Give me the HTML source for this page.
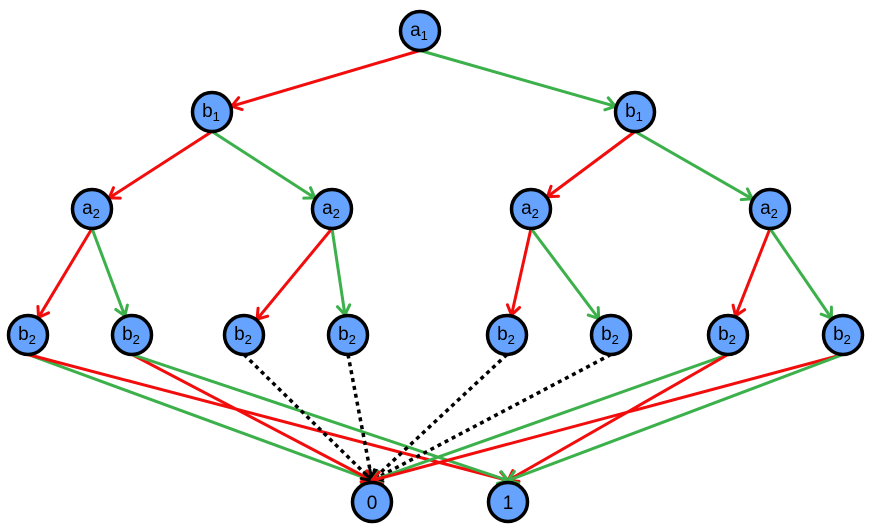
<!DOCTYPE html>
<html><head><meta charset="utf-8"><style>
html,body{margin:0;padding:0;background:#fff;}
svg{display:block;}
text{font-family:"Liberation Sans",sans-serif;}
</style></head><body>
<svg id="s" width="877" height="531" viewBox="0 0 877 531" xmlns="http://www.w3.org/2000/svg"></svg>
<script>
const N={
a1:[420,31,'a','1'],
bL:[212,112,'b','1'],bR:[635,112,'b','1'],
a1L:[92,209,'a','2'],a2L:[332,209,'a','2'],a3:[531,209,'a','2'],a4:[770,209,'a','2'],
b1:[28,335,'b','2'],b2:[132,335,'b','2'],b3:[244,335,'b','2'],b4:[348,335,'b','2'],
b5:[507,335,'b','2'],b6:[611,335,'b','2'],b7:[728,335,'b','2'],b8:[843,335,'b','2'],
z:[372,502,'0',''],o:[508,502,'1','']
};
const R=19.5,RED='#f20d0d',GRN='#3cb04a';
const E=[
['a1','bL',RED],['a1','bR',GRN],
['bL','a1L',RED],['bL','a2L',GRN],['bR','a3',RED],['bR','a4',GRN],
['a1L','b1',RED],['a1L','b2',GRN],['a2L','b3',RED],['a2L','b4',GRN],
['a3','b5',RED],['a3','b6',GRN],['a4','b7',RED],['a4','b8',GRN],
['b1','z',GRN],['b1','o',RED],['b2','z',RED],['b2','o',GRN],
['b3','z','dot'],['b4','z','dot'],['b5','z','dot'],['b6','z','dot'],
['b7','z',GRN],['b7','o',RED],['b8','z',RED],['b8','o',GRN]
];
let h='';
for(const [a,b,c] of E){
 const A=N[a],B=N[b];
 const sx=A[0],sy=A[1]+R;
 let tx,ty;
 if(b==='z'||b==='o'){tx=B[0];ty=B[1]-R-2;}
 else{const dx=B[0]-sx,dy=B[1]-sy,L=Math.hypot(dx,dy);tx=B[0]-dx/L*(R+1);ty=B[1]-dy/L*(R+1);}
 const col=c==='dot'?'#000':c;
 const dash=c==='dot'?' stroke-dasharray="4,4"':'';
 const sw=c==='dot'?3.5:3;
 h+=`<line x1="${sx}" y1="${sy}" x2="${tx}" y2="${ty}" stroke="${col}" stroke-width="${sw}"${dash}/>`;
 const dx=tx-sx,dy=ty-sy,L=Math.hypot(dx,dy),ux=dx/L,uy=dy/L;
 const al=11,ang=0.6;
 const p=(t)=>[tx-al*(ux*Math.cos(t)-uy*Math.sin(t)),ty-al*(uy*Math.cos(t)+ux*Math.sin(t))];
 const p1=p(ang),p2=p(-ang);
 h+=`<path d="M${p1[0]},${p1[1]} L${tx},${ty} L${p2[0]},${p2[1]}" fill="none" stroke="${col}" stroke-width="3" stroke-linecap="round" stroke-linejoin="round"/>`;
}
for(const k in N){
 const [x,y,l,s]=N[k];
 h+=`<circle cx="${x}" cy="${y}" r="${R}" fill="#66a3ff" stroke="#000" stroke-width="3.5"/>`;
 if(s) h+=`<text x="${x-1}" y="${y+5}" font-size="19" text-anchor="middle">${l}<tspan font-size="13" dy="4">${s}</tspan></text>`;
 else h+=`<text x="${x}" y="${y+7}" font-size="19" text-anchor="middle">${l}</text>`;
}
document.getElementById('s').innerHTML=h;
</script>
</body></html>
